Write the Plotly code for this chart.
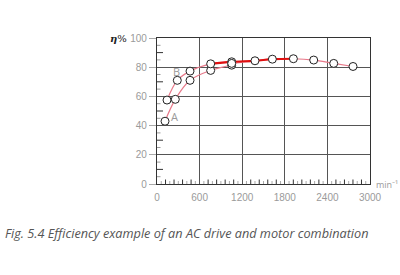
import numpy as np
import plotly.graph_objects as go

# ---- data ----
speed_A = [113, 258, 465, 756, 1052]
eff_A = [43, 58, 71, 77.8, 81.4]
speed_B = [141, 286, 465, 756, 1052]
eff_B = [57.5, 71, 77.3, 82.3, 83.7]
speed_C = [1052, 1380, 1625, 1921, 2207, 2489, 2761]
eff_C = [82.6, 84.4, 85.5, 85.8, 84.9, 82.6, 80.5]
x_ticks = [0, 600, 1200, 1800, 2400, 3000]
y_ticks = [0, 20, 40, 60, 80, 100]

PINK = "#e8798a"
RED = "#e01010"
GRID = "#555555"
LABEL = "#9a9a9a"
TICKFONT = "Liberation Sans Narrow, Arial Narrow, Liberation Sans"

fig = go.Figure()

def curve(x, y, color, width):
    fig.add_trace(go.Scatter(x=x, y=y, mode="lines", line=dict(color=color, width=width, shape="spline"),
                             hoverinfo="skip", showlegend=False))

curve(speed_A, eff_A, PINK, 1.2)
curve(speed_B, eff_B, PINK, 1.2)
curve(speed_C, eff_C, PINK, 1.2)
# highlighted region of best efficiency
curve([speed_B[3], speed_B[4]] + speed_C[1:4], [eff_B[3], eff_B[4]] + eff_C[1:4], RED, 2.2)

marker = dict(symbol="circle", size=8, color="white", line=dict(color="#222222", width=1))
for x, y in [(speed_A, eff_A), (speed_B, eff_B), (speed_C, eff_C)]:
    fig.add_trace(go.Scatter(x=x, y=y, mode="markers", marker=marker, hoverinfo="skip", showlegend=False))

# crossing tick marks on the axes (decorative scale)
shapes = []
for i, v in enumerate(np.arange(60, 3000, 60)):
    if v % 600 == 0:
        continue
    dark = (i % 2 == 1)
    h = 4.5 if dark else 3
    shapes.append(dict(type="line", xref="x", yref="y", ysizemode="pixel", yanchor=0,
                       x0=v, x1=v, y0=-h, y1=h,
                       line=dict(color="#333333" if dark else "#aaaaaa", width=1)))
for v in np.arange(5, 100, 5):
    if v % 20 == 0:
        continue
    long = (v % 10 == 0)
    w = 6 if long else 3.5
    shapes.append(dict(type="line", xref="x", yref="y", xsizemode="pixel", xanchor=0,
                       x0=-w, x1=w, y0=v, y1=v,
                       line=dict(color="#333333" if long else "#999999", width=1)))

fig.update_layout(
    width=400, height=275,
    margin=dict(l=157, r=30, t=38, b=91),
    paper_bgcolor="white", plot_bgcolor="white",
    shapes=shapes,
    xaxis=dict(range=[0, 3000], tickvals=x_ticks, ticktext=[str(v) for v in x_ticks],
               showgrid=True, gridcolor=GRID, gridwidth=1.2,
               showline=True, linecolor="#333333", linewidth=1.2, mirror=True,
               ticks="outside", ticklen=4, tickcolor="rgba(0,0,0,0)", zeroline=False,
               tickfont=dict(family=TICKFONT, size=10, color=LABEL)),
    yaxis=dict(range=[0, 100], tickvals=y_ticks,
               showgrid=True, gridcolor=GRID, gridwidth=1.2,
               showline=True, linecolor="#333333", linewidth=1.2, mirror=True,
               ticks="outside", ticklen=7, tickcolor="#aaaaaa", zeroline=False,
               tickfont=dict(family=TICKFONT, size=10, color=LABEL)),
    annotations=[
        dict(text="<b><i>η</i></b>%", xref="paper", yref="paper", x=-0.131, y=1.0,
             xanchor="right", yanchor="middle", showarrow=False,
             font=dict(family="DejaVu Serif", size=10, color="#222222")),
        dict(text="min⁻¹", xref="paper", yref="paper", x=1.02, y=0.0,
             xanchor="left", yanchor="middle", showarrow=False,
             font=dict(family="Open Sans", size=9, color=LABEL)),
        dict(text="A", x=245, y=46.5, xref="x", yref="y", showarrow=False,
             font=dict(family="Open Sans", size=11, color=LABEL)),
        dict(text="B", x=268, y=77, xref="x", yref="y", showarrow=False,
             font=dict(family="Open Sans", size=11, color=LABEL)),
        dict(text="<i>Fig. 5.4 Efficiency example of an AC drive and motor combination</i>",
             xref="paper", yref="paper", x=-0.723, y=-0.335, xanchor="left", yanchor="middle",
             showarrow=False, font=dict(family="Open Sans", size=12.7, color="#555555")),
    ],
)

fig.write_html("out.html")
